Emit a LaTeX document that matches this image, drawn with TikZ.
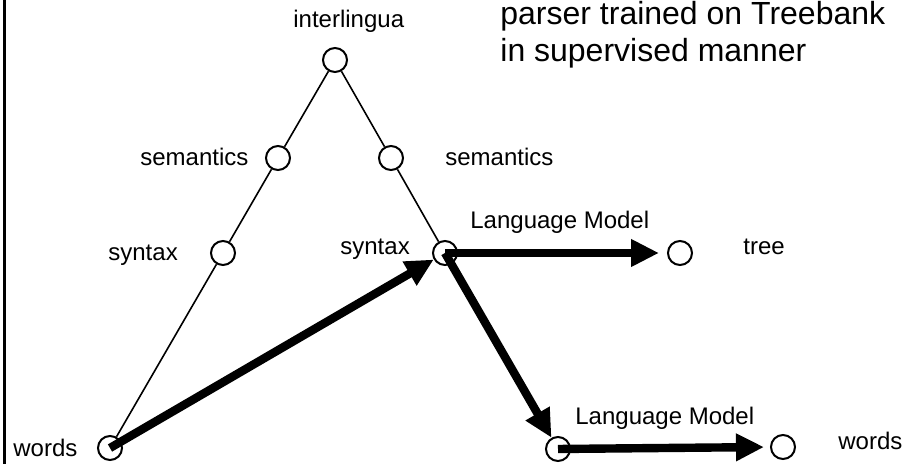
\documentclass[tikz,border=0pt]{standalone}
\usepackage{fontspec}
\setmainfont{Liberation Sans}
\usetikzlibrary{arrows.meta}
\begin{document}
\begin{tikzpicture}[x=0.5pt,y=-0.5pt,
  dot/.style={circle,draw,line width=1pt,minimum size=12pt,inner sep=0pt},
  lbl/.style={anchor=base west,inner sep=0pt,font=\fontsize{12pt}{14pt}\selectfont},
  big/.style={anchor=base west,inner sep=0pt,font=\fontsize{16pt}{18.5pt}\selectfont,align=left},
  thin/.style={line width=0.8pt},
  thick/.style={line width=4.2pt,-{Triangle[length=14pt,width=13pt]}}]
\useasboundingbox (0,0) rectangle (912,464);
\draw[line width=1.5pt] (4,0) -- (4,464);
% circles
\node[dot] (top) at (335,60) {};
\node[dot] (lsem) at (278,158) {};
\node[dot] (rsem) at (391,158) {};
\node[dot] (lsyn) at (223,253) {};
\node[dot] (rsyn) at (445,253) {};
\node[dot] (w1) at (110,448) {};
\node[dot] (tree) at (680,253) {};
\node[dot] (mid) at (558,449) {};
\node[dot] (w2) at (783,447) {};
% labels
\node[lbl] (tinter) at (293,28) {interlingua};
\node[lbl] (tlsem) at (140,166) {semantics};
\node[lbl] (trsem) at (445,166) {semantics};
\node[lbl] (tlsyn) at (108,261) {syntax};
\node[lbl] (trsyn) at (340,255) {syntax};
\node[lbl] (tlm1) at (470,229) {Language Model};
\node[lbl] (ttree) at (743,255) {tree};
\node[lbl] (tlm2) at (575,425) {Language Model};
\node[lbl] (tw2) at (838,450) {words};
\node[lbl] (tw1) at (13,457) {words};
\node[big] (tparser) at (500,62) {parser trained on Treebank\\in supervised manner};
% thin tree lines
\draw[thin] (top) -- (lsem);
\draw[thin] (lsem) -- (lsyn);
\draw[thin] (lsyn) -- (w1);
\draw[thin] (top) -- (rsem);
\draw[thin] (rsem) -- (rsyn);
% thick arrows
\draw[thick] (w1.center) -- (rsyn);
\draw[thick,shorten >=4pt] (rsyn.center) -- (tree.west);
\draw[thick] (rsyn.center) -- (mid);
\draw[thick,shorten >=3pt] (mid.center) -- (w2.west);
\end{tikzpicture}
\end{document}
